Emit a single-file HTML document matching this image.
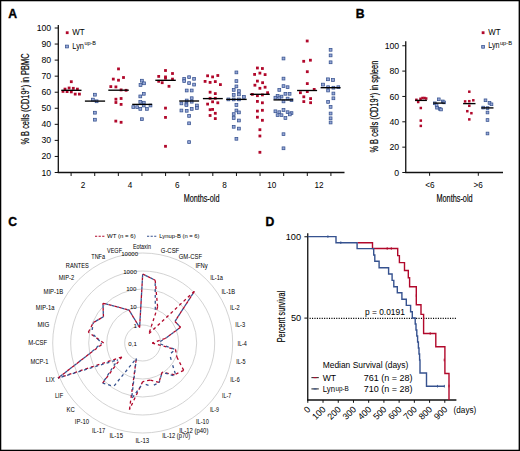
<!DOCTYPE html>
<html><head><meta charset="utf-8"><style>
html,body{margin:0;padding:0;background:#fff;}
body{width:520px;height:451px;overflow:hidden;}
svg{display:block;font-family:"Liberation Sans", sans-serif;}

</style></head><body>
<svg width="520" height="451" viewBox="0 0 520 451">
<rect x="0" y="0" width="520" height="451" fill="#fff"/>
<text x="8.30" y="17.60" font-size="12.2" font-weight="bold" fill="#000" stroke="#000" stroke-width="0.35">A</text>
<line x1="58.30" y1="25.00" x2="58.30" y2="173.10" stroke="#111" stroke-width="1.3"/>
<line x1="57.70" y1="172.50" x2="344.50" y2="172.50" stroke="#111" stroke-width="1.3"/>
<line x1="54.70" y1="172.50" x2="58.30" y2="172.50" stroke="#111" stroke-width="1.0"/>
<text x="51.20" y="175.55" font-size="8.7" text-anchor="end" fill="#000">10</text>
<line x1="54.70" y1="156.44" x2="58.30" y2="156.44" stroke="#111" stroke-width="1.0"/>
<text x="51.20" y="159.49" font-size="8.7" text-anchor="end" fill="#000">20</text>
<line x1="54.70" y1="140.39" x2="58.30" y2="140.39" stroke="#111" stroke-width="1.0"/>
<text x="51.20" y="143.44" font-size="8.7" text-anchor="end" fill="#000">30</text>
<line x1="54.70" y1="124.33" x2="58.30" y2="124.33" stroke="#111" stroke-width="1.0"/>
<text x="51.20" y="127.38" font-size="8.7" text-anchor="end" fill="#000">40</text>
<line x1="54.70" y1="108.28" x2="58.30" y2="108.28" stroke="#111" stroke-width="1.0"/>
<text x="51.20" y="111.33" font-size="8.7" text-anchor="end" fill="#000">50</text>
<line x1="54.70" y1="92.22" x2="58.30" y2="92.22" stroke="#111" stroke-width="1.0"/>
<text x="51.20" y="95.27" font-size="8.7" text-anchor="end" fill="#000">60</text>
<line x1="54.70" y1="76.16" x2="58.30" y2="76.16" stroke="#111" stroke-width="1.0"/>
<text x="51.20" y="79.21" font-size="8.7" text-anchor="end" fill="#000">70</text>
<line x1="54.70" y1="60.11" x2="58.30" y2="60.11" stroke="#111" stroke-width="1.0"/>
<text x="51.20" y="63.16" font-size="8.7" text-anchor="end" fill="#000">80</text>
<line x1="54.70" y1="44.05" x2="58.30" y2="44.05" stroke="#111" stroke-width="1.0"/>
<text x="51.20" y="47.10" font-size="8.7" text-anchor="end" fill="#000">90</text>
<line x1="54.70" y1="28.00" x2="58.30" y2="28.00" stroke="#111" stroke-width="1.0"/>
<text x="51.20" y="31.05" font-size="8.7" text-anchor="end" fill="#000">100</text>
<line x1="71.10" y1="172.50" x2="71.10" y2="176.00" stroke="#111" stroke-width="1.0"/>
<line x1="94.72" y1="172.50" x2="94.72" y2="176.00" stroke="#111" stroke-width="1.0"/>
<line x1="118.34" y1="172.50" x2="118.34" y2="176.00" stroke="#111" stroke-width="1.0"/>
<line x1="141.96" y1="172.50" x2="141.96" y2="176.00" stroke="#111" stroke-width="1.0"/>
<line x1="165.58" y1="172.50" x2="165.58" y2="176.00" stroke="#111" stroke-width="1.0"/>
<line x1="189.20" y1="172.50" x2="189.20" y2="176.00" stroke="#111" stroke-width="1.0"/>
<line x1="212.82" y1="172.50" x2="212.82" y2="176.00" stroke="#111" stroke-width="1.0"/>
<line x1="236.44" y1="172.50" x2="236.44" y2="176.00" stroke="#111" stroke-width="1.0"/>
<line x1="260.06" y1="172.50" x2="260.06" y2="176.00" stroke="#111" stroke-width="1.0"/>
<line x1="283.68" y1="172.50" x2="283.68" y2="176.00" stroke="#111" stroke-width="1.0"/>
<line x1="307.30" y1="172.50" x2="307.30" y2="176.00" stroke="#111" stroke-width="1.0"/>
<line x1="330.92" y1="172.50" x2="330.92" y2="176.00" stroke="#111" stroke-width="1.0"/>
<text x="82.91" y="188.20" font-size="8.2" text-anchor="middle" fill="#000">2</text>
<text x="130.15" y="188.20" font-size="8.2" text-anchor="middle" fill="#000">4</text>
<text x="177.39" y="188.20" font-size="8.2" text-anchor="middle" fill="#000">6</text>
<text x="224.63" y="188.20" font-size="8.2" text-anchor="middle" fill="#000">8</text>
<text x="271.87" y="188.20" font-size="8.2" text-anchor="middle" fill="#000">10</text>
<text x="319.11" y="188.20" font-size="8.2" text-anchor="middle" fill="#000">12</text>
<text x="183.65" y="202.15" font-size="10.4" fill="#000" textLength="35.8" lengthAdjust="spacingAndGlyphs" stroke="#000" stroke-width="0.15">Months-old</text>
<text transform="translate(29.3,144.6) rotate(-90)" font-size="10.3" stroke="#000" stroke-width="0.18" fill="#000" textLength="91.2" lengthAdjust="spacingAndGlyphs">% B cells (CD19<tspan font-size="7.2" dy="-3.4">+</tspan><tspan dy="3.4">) in PBMC</tspan></text>
<rect x="65.80" y="31.30" width="2.8" height="2.8" fill="#b1082b"/>
<text x="72.30" y="35.40" font-size="8.7" fill="#000" textLength="12.4" lengthAdjust="spacingAndGlyphs">WT</text>
<rect x="65.60" y="45.10" width="2.8" height="2.8" fill="#97a7d6" stroke="#36528f" stroke-width="0.75"/>
<text x="72.30" y="48.60" font-size="8.7" fill="#000" textLength="11.7" lengthAdjust="spacingAndGlyphs">Lyn</text>
<text x="84.40" y="44.90" font-size="5.7" fill="#000" textLength="11.6" lengthAdjust="spacingAndGlyphs">up-B</text>
<rect x="69.90" y="80.30" width="2.8" height="2.8" fill="#b1082b"/>
<rect x="63.60" y="87.70" width="2.8" height="2.8" fill="#b1082b"/>
<rect x="67.70" y="86.60" width="2.8" height="2.8" fill="#b1082b"/>
<rect x="71.90" y="86.90" width="2.8" height="2.8" fill="#b1082b"/>
<rect x="76.00" y="87.70" width="2.8" height="2.8" fill="#b1082b"/>
<rect x="61.60" y="90.00" width="2.8" height="2.8" fill="#b1082b"/>
<rect x="65.70" y="90.20" width="2.8" height="2.8" fill="#b1082b"/>
<rect x="69.90" y="90.50" width="2.8" height="2.8" fill="#b1082b"/>
<rect x="73.80" y="92.70" width="2.8" height="2.8" fill="#b1082b"/>
<rect x="78.00" y="92.70" width="2.8" height="2.8" fill="#b1082b"/>
<rect x="93.50" y="93.30" width="2.8" height="2.8" fill="#97a7d6" stroke="#36528f" stroke-width="0.75"/>
<rect x="91.50" y="98.20" width="2.8" height="2.8" fill="#97a7d6" stroke="#36528f" stroke-width="0.75"/>
<rect x="95.20" y="99.90" width="2.8" height="2.8" fill="#97a7d6" stroke="#36528f" stroke-width="0.75"/>
<rect x="93.50" y="111.30" width="2.8" height="2.8" fill="#97a7d6" stroke="#36528f" stroke-width="0.75"/>
<rect x="93.50" y="118.30" width="2.8" height="2.8" fill="#97a7d6" stroke="#36528f" stroke-width="0.75"/>
<rect x="117.10" y="67.50" width="2.8" height="2.8" fill="#b1082b"/>
<rect x="111.90" y="77.70" width="2.8" height="2.8" fill="#b1082b"/>
<rect x="117.10" y="78.80" width="2.8" height="2.8" fill="#b1082b"/>
<rect x="122.10" y="76.10" width="2.8" height="2.8" fill="#b1082b"/>
<rect x="109.40" y="85.20" width="2.8" height="2.8" fill="#b1082b"/>
<rect x="114.50" y="85.50" width="2.8" height="2.8" fill="#b1082b"/>
<rect x="119.70" y="88.50" width="2.8" height="2.8" fill="#b1082b"/>
<rect x="124.70" y="88.90" width="2.8" height="2.8" fill="#b1082b"/>
<rect x="114.50" y="97.80" width="2.8" height="2.8" fill="#b1082b"/>
<rect x="114.50" y="101.10" width="2.8" height="2.8" fill="#b1082b"/>
<rect x="119.70" y="97.10" width="2.8" height="2.8" fill="#b1082b"/>
<rect x="119.70" y="103.00" width="2.8" height="2.8" fill="#b1082b"/>
<rect x="114.40" y="119.70" width="2.8" height="2.8" fill="#b1082b"/>
<rect x="119.70" y="120.90" width="2.8" height="2.8" fill="#b1082b"/>
<rect x="140.50" y="79.30" width="2.8" height="2.8" fill="#97a7d6" stroke="#36528f" stroke-width="0.75"/>
<rect x="142.60" y="81.90" width="2.8" height="2.8" fill="#97a7d6" stroke="#36528f" stroke-width="0.75"/>
<rect x="139.10" y="83.60" width="2.8" height="2.8" fill="#97a7d6" stroke="#36528f" stroke-width="0.75"/>
<rect x="142.40" y="92.40" width="2.8" height="2.8" fill="#97a7d6" stroke="#36528f" stroke-width="0.75"/>
<rect x="138.90" y="95.00" width="2.8" height="2.8" fill="#97a7d6" stroke="#36528f" stroke-width="0.75"/>
<rect x="138.90" y="100.50" width="2.8" height="2.8" fill="#97a7d6" stroke="#36528f" stroke-width="0.75"/>
<rect x="142.40" y="101.30" width="2.8" height="2.8" fill="#97a7d6" stroke="#36528f" stroke-width="0.75"/>
<rect x="131.90" y="105.70" width="2.8" height="2.8" fill="#97a7d6" stroke="#36528f" stroke-width="0.75"/>
<rect x="135.80" y="105.80" width="2.8" height="2.8" fill="#97a7d6" stroke="#36528f" stroke-width="0.75"/>
<rect x="138.90" y="107.50" width="2.8" height="2.8" fill="#97a7d6" stroke="#36528f" stroke-width="0.75"/>
<rect x="145.50" y="107.50" width="2.8" height="2.8" fill="#97a7d6" stroke="#36528f" stroke-width="0.75"/>
<rect x="142.30" y="104.10" width="2.8" height="2.8" fill="#97a7d6" stroke="#36528f" stroke-width="0.75"/>
<rect x="149.10" y="104.10" width="2.8" height="2.8" fill="#97a7d6" stroke="#36528f" stroke-width="0.75"/>
<rect x="140.50" y="117.80" width="2.8" height="2.8" fill="#97a7d6" stroke="#36528f" stroke-width="0.75"/>
<rect x="164.10" y="69.10" width="2.8" height="2.8" fill="#b1082b"/>
<rect x="171.10" y="72.10" width="2.8" height="2.8" fill="#b1082b"/>
<rect x="157.30" y="75.00" width="2.8" height="2.8" fill="#b1082b"/>
<rect x="164.10" y="75.50" width="2.8" height="2.8" fill="#b1082b"/>
<rect x="164.10" y="76.80" width="2.8" height="2.8" fill="#b1082b"/>
<rect x="171.10" y="77.70" width="2.8" height="2.8" fill="#b1082b"/>
<rect x="157.30" y="79.90" width="2.8" height="2.8" fill="#b1082b"/>
<rect x="160.80" y="81.30" width="2.8" height="2.8" fill="#b1082b"/>
<rect x="167.60" y="84.90" width="2.8" height="2.8" fill="#b1082b"/>
<rect x="164.10" y="106.70" width="2.8" height="2.8" fill="#b1082b"/>
<rect x="164.10" y="116.00" width="2.8" height="2.8" fill="#b1082b"/>
<rect x="164.10" y="144.90" width="2.8" height="2.8" fill="#b1082b"/>
<rect x="182.80" y="77.40" width="2.8" height="2.8" fill="#97a7d6" stroke="#36528f" stroke-width="0.75"/>
<rect x="182.80" y="79.70" width="2.8" height="2.8" fill="#97a7d6" stroke="#36528f" stroke-width="0.75"/>
<rect x="187.70" y="75.80" width="2.8" height="2.8" fill="#97a7d6" stroke="#36528f" stroke-width="0.75"/>
<rect x="192.70" y="77.40" width="2.8" height="2.8" fill="#97a7d6" stroke="#36528f" stroke-width="0.75"/>
<rect x="187.70" y="81.70" width="2.8" height="2.8" fill="#97a7d6" stroke="#36528f" stroke-width="0.75"/>
<rect x="192.70" y="83.20" width="2.8" height="2.8" fill="#97a7d6" stroke="#36528f" stroke-width="0.75"/>
<rect x="185.30" y="89.10" width="2.8" height="2.8" fill="#97a7d6" stroke="#36528f" stroke-width="0.75"/>
<rect x="190.30" y="89.10" width="2.8" height="2.8" fill="#97a7d6" stroke="#36528f" stroke-width="0.75"/>
<rect x="190.30" y="96.80" width="2.8" height="2.8" fill="#97a7d6" stroke="#36528f" stroke-width="0.75"/>
<rect x="185.30" y="99.10" width="2.8" height="2.8" fill="#97a7d6" stroke="#36528f" stroke-width="0.75"/>
<rect x="190.30" y="100.30" width="2.8" height="2.8" fill="#97a7d6" stroke="#36528f" stroke-width="0.75"/>
<rect x="180.00" y="102.00" width="2.8" height="2.8" fill="#97a7d6" stroke="#36528f" stroke-width="0.75"/>
<rect x="185.00" y="102.60" width="2.8" height="2.8" fill="#97a7d6" stroke="#36528f" stroke-width="0.75"/>
<rect x="185.00" y="103.80" width="2.8" height="2.8" fill="#97a7d6" stroke="#36528f" stroke-width="0.75"/>
<rect x="195.50" y="104.10" width="2.8" height="2.8" fill="#97a7d6" stroke="#36528f" stroke-width="0.75"/>
<rect x="195.50" y="106.60" width="2.8" height="2.8" fill="#97a7d6" stroke="#36528f" stroke-width="0.75"/>
<rect x="180.00" y="109.10" width="2.8" height="2.8" fill="#97a7d6" stroke="#36528f" stroke-width="0.75"/>
<rect x="185.30" y="109.40" width="2.8" height="2.8" fill="#97a7d6" stroke="#36528f" stroke-width="0.75"/>
<rect x="190.30" y="107.50" width="2.8" height="2.8" fill="#97a7d6" stroke="#36528f" stroke-width="0.75"/>
<rect x="187.70" y="114.50" width="2.8" height="2.8" fill="#97a7d6" stroke="#36528f" stroke-width="0.75"/>
<rect x="187.70" y="121.90" width="2.8" height="2.8" fill="#97a7d6" stroke="#36528f" stroke-width="0.75"/>
<rect x="187.70" y="140.70" width="2.8" height="2.8" fill="#97a7d6" stroke="#36528f" stroke-width="0.75"/>
<rect x="206.20" y="74.40" width="2.8" height="2.8" fill="#b1082b"/>
<rect x="211.20" y="75.50" width="2.8" height="2.8" fill="#b1082b"/>
<rect x="216.40" y="74.10" width="2.8" height="2.8" fill="#b1082b"/>
<rect x="203.70" y="80.00" width="2.8" height="2.8" fill="#b1082b"/>
<rect x="208.70" y="81.00" width="2.8" height="2.8" fill="#b1082b"/>
<rect x="213.90" y="80.20" width="2.8" height="2.8" fill="#b1082b"/>
<rect x="219.00" y="83.20" width="2.8" height="2.8" fill="#b1082b"/>
<rect x="208.70" y="90.80" width="2.8" height="2.8" fill="#b1082b"/>
<rect x="213.90" y="92.20" width="2.8" height="2.8" fill="#b1082b"/>
<rect x="208.70" y="96.90" width="2.8" height="2.8" fill="#b1082b"/>
<rect x="213.90" y="96.90" width="2.8" height="2.8" fill="#b1082b"/>
<rect x="211.20" y="100.40" width="2.8" height="2.8" fill="#b1082b"/>
<rect x="216.40" y="101.40" width="2.8" height="2.8" fill="#b1082b"/>
<rect x="206.20" y="102.70" width="2.8" height="2.8" fill="#b1082b"/>
<rect x="208.70" y="108.30" width="2.8" height="2.8" fill="#b1082b"/>
<rect x="211.20" y="108.00" width="2.8" height="2.8" fill="#b1082b"/>
<rect x="213.90" y="111.90" width="2.8" height="2.8" fill="#b1082b"/>
<rect x="208.70" y="114.10" width="2.8" height="2.8" fill="#b1082b"/>
<rect x="213.90" y="117.20" width="2.8" height="2.8" fill="#b1082b"/>
<rect x="235.00" y="71.00" width="2.8" height="2.8" fill="#97a7d6" stroke="#36528f" stroke-width="0.75"/>
<rect x="235.00" y="79.70" width="2.8" height="2.8" fill="#97a7d6" stroke="#36528f" stroke-width="0.75"/>
<rect x="235.00" y="85.00" width="2.8" height="2.8" fill="#97a7d6" stroke="#36528f" stroke-width="0.75"/>
<rect x="232.30" y="88.50" width="2.8" height="2.8" fill="#97a7d6" stroke="#36528f" stroke-width="0.75"/>
<rect x="237.50" y="89.70" width="2.8" height="2.8" fill="#97a7d6" stroke="#36528f" stroke-width="0.75"/>
<rect x="237.50" y="93.00" width="2.8" height="2.8" fill="#97a7d6" stroke="#36528f" stroke-width="0.75"/>
<rect x="232.30" y="93.50" width="2.8" height="2.8" fill="#97a7d6" stroke="#36528f" stroke-width="0.75"/>
<rect x="242.50" y="95.50" width="2.8" height="2.8" fill="#97a7d6" stroke="#36528f" stroke-width="0.75"/>
<rect x="227.00" y="98.00" width="2.8" height="2.8" fill="#97a7d6" stroke="#36528f" stroke-width="0.75"/>
<rect x="232.30" y="98.00" width="2.8" height="2.8" fill="#97a7d6" stroke="#36528f" stroke-width="0.75"/>
<rect x="237.50" y="98.00" width="2.8" height="2.8" fill="#97a7d6" stroke="#36528f" stroke-width="0.75"/>
<rect x="235.00" y="103.60" width="2.8" height="2.8" fill="#97a7d6" stroke="#36528f" stroke-width="0.75"/>
<rect x="235.00" y="109.10" width="2.8" height="2.8" fill="#97a7d6" stroke="#36528f" stroke-width="0.75"/>
<rect x="237.50" y="111.00" width="2.8" height="2.8" fill="#97a7d6" stroke="#36528f" stroke-width="0.75"/>
<rect x="232.30" y="112.70" width="2.8" height="2.8" fill="#97a7d6" stroke="#36528f" stroke-width="0.75"/>
<rect x="232.30" y="116.60" width="2.8" height="2.8" fill="#97a7d6" stroke="#36528f" stroke-width="0.75"/>
<rect x="237.50" y="119.10" width="2.8" height="2.8" fill="#97a7d6" stroke="#36528f" stroke-width="0.75"/>
<rect x="232.30" y="125.40" width="2.8" height="2.8" fill="#97a7d6" stroke="#36528f" stroke-width="0.75"/>
<rect x="237.50" y="127.20" width="2.8" height="2.8" fill="#97a7d6" stroke="#36528f" stroke-width="0.75"/>
<rect x="235.00" y="137.40" width="2.8" height="2.8" fill="#97a7d6" stroke="#36528f" stroke-width="0.75"/>
<rect x="256.00" y="66.60" width="2.8" height="2.8" fill="#b1082b"/>
<rect x="261.00" y="67.10" width="2.8" height="2.8" fill="#b1082b"/>
<rect x="253.20" y="73.00" width="2.8" height="2.8" fill="#b1082b"/>
<rect x="258.50" y="71.70" width="2.8" height="2.8" fill="#b1082b"/>
<rect x="263.70" y="73.20" width="2.8" height="2.8" fill="#b1082b"/>
<rect x="256.00" y="79.70" width="2.8" height="2.8" fill="#b1082b"/>
<rect x="261.20" y="81.30" width="2.8" height="2.8" fill="#b1082b"/>
<rect x="253.50" y="83.80" width="2.8" height="2.8" fill="#b1082b"/>
<rect x="258.50" y="86.90" width="2.8" height="2.8" fill="#b1082b"/>
<rect x="263.70" y="85.80" width="2.8" height="2.8" fill="#b1082b"/>
<rect x="266.20" y="91.30" width="2.8" height="2.8" fill="#b1082b"/>
<rect x="250.90" y="93.00" width="2.8" height="2.8" fill="#b1082b"/>
<rect x="256.00" y="94.30" width="2.8" height="2.8" fill="#b1082b"/>
<rect x="261.00" y="93.50" width="2.8" height="2.8" fill="#b1082b"/>
<rect x="256.00" y="100.00" width="2.8" height="2.8" fill="#b1082b"/>
<rect x="261.00" y="101.40" width="2.8" height="2.8" fill="#b1082b"/>
<rect x="256.00" y="109.70" width="2.8" height="2.8" fill="#b1082b"/>
<rect x="261.00" y="108.90" width="2.8" height="2.8" fill="#b1082b"/>
<rect x="256.00" y="115.80" width="2.8" height="2.8" fill="#b1082b"/>
<rect x="261.00" y="118.90" width="2.8" height="2.8" fill="#b1082b"/>
<rect x="258.50" y="128.30" width="2.8" height="2.8" fill="#b1082b"/>
<rect x="258.50" y="134.60" width="2.8" height="2.8" fill="#b1082b"/>
<rect x="258.50" y="150.90" width="2.8" height="2.8" fill="#b1082b"/>
<rect x="282.10" y="57.10" width="2.8" height="2.8" fill="#97a7d6" stroke="#36528f" stroke-width="0.75"/>
<rect x="282.10" y="77.20" width="2.8" height="2.8" fill="#97a7d6" stroke="#36528f" stroke-width="0.75"/>
<rect x="282.10" y="84.70" width="2.8" height="2.8" fill="#97a7d6" stroke="#36528f" stroke-width="0.75"/>
<rect x="286.20" y="85.80" width="2.8" height="2.8" fill="#97a7d6" stroke="#36528f" stroke-width="0.75"/>
<rect x="277.90" y="88.50" width="2.8" height="2.8" fill="#97a7d6" stroke="#36528f" stroke-width="0.75"/>
<rect x="284.00" y="92.40" width="2.8" height="2.8" fill="#97a7d6" stroke="#36528f" stroke-width="0.75"/>
<rect x="288.20" y="92.40" width="2.8" height="2.8" fill="#97a7d6" stroke="#36528f" stroke-width="0.75"/>
<rect x="276.20" y="94.60" width="2.8" height="2.8" fill="#97a7d6" stroke="#36528f" stroke-width="0.75"/>
<rect x="280.10" y="95.20" width="2.8" height="2.8" fill="#97a7d6" stroke="#36528f" stroke-width="0.75"/>
<rect x="274.00" y="96.30" width="2.8" height="2.8" fill="#97a7d6" stroke="#36528f" stroke-width="0.75"/>
<rect x="277.90" y="96.80" width="2.8" height="2.8" fill="#97a7d6" stroke="#36528f" stroke-width="0.75"/>
<rect x="286.20" y="97.20" width="2.8" height="2.8" fill="#97a7d6" stroke="#36528f" stroke-width="0.75"/>
<rect x="290.10" y="98.80" width="2.8" height="2.8" fill="#97a7d6" stroke="#36528f" stroke-width="0.75"/>
<rect x="282.10" y="100.00" width="2.8" height="2.8" fill="#97a7d6" stroke="#36528f" stroke-width="0.75"/>
<rect x="274.00" y="109.90" width="2.8" height="2.8" fill="#97a7d6" stroke="#36528f" stroke-width="0.75"/>
<rect x="277.90" y="110.80" width="2.8" height="2.8" fill="#97a7d6" stroke="#36528f" stroke-width="0.75"/>
<rect x="282.10" y="108.60" width="2.8" height="2.8" fill="#97a7d6" stroke="#36528f" stroke-width="0.75"/>
<rect x="286.20" y="110.80" width="2.8" height="2.8" fill="#97a7d6" stroke="#36528f" stroke-width="0.75"/>
<rect x="290.10" y="111.70" width="2.8" height="2.8" fill="#97a7d6" stroke="#36528f" stroke-width="0.75"/>
<rect x="276.20" y="113.80" width="2.8" height="2.8" fill="#97a7d6" stroke="#36528f" stroke-width="0.75"/>
<rect x="280.10" y="113.80" width="2.8" height="2.8" fill="#97a7d6" stroke="#36528f" stroke-width="0.75"/>
<rect x="288.40" y="113.00" width="2.8" height="2.8" fill="#97a7d6" stroke="#36528f" stroke-width="0.75"/>
<rect x="284.00" y="116.60" width="2.8" height="2.8" fill="#97a7d6" stroke="#36528f" stroke-width="0.75"/>
<rect x="282.10" y="132.80" width="2.8" height="2.8" fill="#97a7d6" stroke="#36528f" stroke-width="0.75"/>
<rect x="282.10" y="146.90" width="2.8" height="2.8" fill="#97a7d6" stroke="#36528f" stroke-width="0.75"/>
<rect x="305.80" y="39.60" width="2.8" height="2.8" fill="#b1082b"/>
<rect x="302.30" y="59.90" width="2.8" height="2.8" fill="#b1082b"/>
<rect x="309.00" y="58.80" width="2.8" height="2.8" fill="#b1082b"/>
<rect x="305.90" y="70.30" width="2.8" height="2.8" fill="#b1082b"/>
<rect x="305.90" y="82.20" width="2.8" height="2.8" fill="#b1082b"/>
<rect x="312.80" y="88.00" width="2.8" height="2.8" fill="#b1082b"/>
<rect x="299.00" y="91.30" width="2.8" height="2.8" fill="#b1082b"/>
<rect x="305.90" y="90.20" width="2.8" height="2.8" fill="#b1082b"/>
<rect x="302.40" y="95.40" width="2.8" height="2.8" fill="#b1082b"/>
<rect x="309.20" y="97.20" width="2.8" height="2.8" fill="#b1082b"/>
<rect x="302.40" y="100.20" width="2.8" height="2.8" fill="#b1082b"/>
<rect x="309.20" y="101.30" width="2.8" height="2.8" fill="#b1082b"/>
<rect x="329.20" y="48.40" width="2.8" height="2.8" fill="#97a7d6" stroke="#36528f" stroke-width="0.75"/>
<rect x="329.20" y="54.00" width="2.8" height="2.8" fill="#97a7d6" stroke="#36528f" stroke-width="0.75"/>
<rect x="329.20" y="60.90" width="2.8" height="2.8" fill="#97a7d6" stroke="#36528f" stroke-width="0.75"/>
<rect x="326.60" y="77.90" width="2.8" height="2.8" fill="#97a7d6" stroke="#36528f" stroke-width="0.75"/>
<rect x="331.60" y="78.60" width="2.8" height="2.8" fill="#97a7d6" stroke="#36528f" stroke-width="0.75"/>
<rect x="321.60" y="83.20" width="2.8" height="2.8" fill="#97a7d6" stroke="#36528f" stroke-width="0.75"/>
<rect x="326.70" y="85.80" width="2.8" height="2.8" fill="#97a7d6" stroke="#36528f" stroke-width="0.75"/>
<rect x="332.00" y="86.30" width="2.8" height="2.8" fill="#97a7d6" stroke="#36528f" stroke-width="0.75"/>
<rect x="336.90" y="85.80" width="2.8" height="2.8" fill="#97a7d6" stroke="#36528f" stroke-width="0.75"/>
<rect x="326.70" y="89.10" width="2.8" height="2.8" fill="#97a7d6" stroke="#36528f" stroke-width="0.75"/>
<rect x="332.00" y="92.10" width="2.8" height="2.8" fill="#97a7d6" stroke="#36528f" stroke-width="0.75"/>
<rect x="332.00" y="96.90" width="2.8" height="2.8" fill="#97a7d6" stroke="#36528f" stroke-width="0.75"/>
<rect x="326.70" y="100.50" width="2.8" height="2.8" fill="#97a7d6" stroke="#36528f" stroke-width="0.75"/>
<rect x="329.20" y="105.50" width="2.8" height="2.8" fill="#97a7d6" stroke="#36528f" stroke-width="0.75"/>
<rect x="329.20" y="112.10" width="2.8" height="2.8" fill="#97a7d6" stroke="#36528f" stroke-width="0.75"/>
<rect x="329.20" y="116.90" width="2.8" height="2.8" fill="#97a7d6" stroke="#36528f" stroke-width="0.75"/>
<rect x="329.20" y="121.10" width="2.8" height="2.8" fill="#97a7d6" stroke="#36528f" stroke-width="0.75"/>
<line x1="61.30" y1="90.30" x2="81.50" y2="90.30" stroke="#000" stroke-width="1.35"/>
<line x1="84.90" y1="101.10" x2="105.10" y2="101.10" stroke="#000" stroke-width="1.35"/>
<line x1="108.30" y1="90.20" x2="128.80" y2="90.20" stroke="#000" stroke-width="1.35"/>
<line x1="132.20" y1="104.40" x2="152.10" y2="104.40" stroke="#000" stroke-width="1.35"/>
<line x1="155.30" y1="80.30" x2="175.80" y2="80.30" stroke="#000" stroke-width="1.35"/>
<line x1="179.20" y1="101.00" x2="199.10" y2="101.00" stroke="#000" stroke-width="1.35"/>
<line x1="202.90" y1="98.60" x2="222.80" y2="98.60" stroke="#000" stroke-width="1.35"/>
<line x1="226.20" y1="99.40" x2="246.70" y2="99.40" stroke="#000" stroke-width="1.35"/>
<line x1="249.90" y1="94.30" x2="269.80" y2="94.30" stroke="#000" stroke-width="1.35"/>
<line x1="273.50" y1="99.90" x2="293.10" y2="99.90" stroke="#000" stroke-width="1.35"/>
<line x1="297.10" y1="90.50" x2="317.10" y2="90.50" stroke="#000" stroke-width="1.35"/>
<line x1="320.60" y1="87.70" x2="340.60" y2="87.70" stroke="#000" stroke-width="1.35"/>
<text x="355.70" y="17.60" font-size="12.2" font-weight="bold" fill="#000" stroke="#000" stroke-width="0.35">B</text>
<line x1="405.75" y1="41.20" x2="405.75" y2="173.10" stroke="#111" stroke-width="1.3"/>
<line x1="405.15" y1="172.50" x2="503.00" y2="172.50" stroke="#111" stroke-width="1.3"/>
<line x1="402.30" y1="172.50" x2="405.75" y2="172.50" stroke="#111" stroke-width="1.0"/>
<text x="399.20" y="175.55" font-size="8.7" text-anchor="end" fill="#000">0</text>
<line x1="402.30" y1="147.15" x2="405.75" y2="147.15" stroke="#111" stroke-width="1.0"/>
<text x="399.20" y="150.20" font-size="8.7" text-anchor="end" fill="#000">20</text>
<line x1="402.30" y1="121.80" x2="405.75" y2="121.80" stroke="#111" stroke-width="1.0"/>
<text x="399.20" y="124.85" font-size="8.7" text-anchor="end" fill="#000">40</text>
<line x1="402.30" y1="96.45" x2="405.75" y2="96.45" stroke="#111" stroke-width="1.0"/>
<text x="399.20" y="99.50" font-size="8.7" text-anchor="end" fill="#000">60</text>
<line x1="402.30" y1="71.10" x2="405.75" y2="71.10" stroke="#111" stroke-width="1.0"/>
<text x="399.20" y="74.15" font-size="8.7" text-anchor="end" fill="#000">80</text>
<line x1="402.30" y1="45.75" x2="405.75" y2="45.75" stroke="#111" stroke-width="1.0"/>
<text x="399.20" y="48.80" font-size="8.7" text-anchor="end" fill="#000">100</text>
<line x1="429.60" y1="172.50" x2="429.60" y2="175.80" stroke="#111" stroke-width="1.0"/>
<line x1="478.30" y1="172.50" x2="478.30" y2="175.80" stroke="#111" stroke-width="1.0"/>
<text x="430.00" y="187.80" font-size="8.2" text-anchor="middle" fill="#000">&lt;6</text>
<text x="478.10" y="187.80" font-size="8.2" text-anchor="middle" fill="#000">&gt;6</text>
<text x="436.40" y="202.20" font-size="10.4" fill="#000" textLength="36.2" lengthAdjust="spacingAndGlyphs" stroke="#000" stroke-width="0.15">Months-old</text>
<text transform="translate(378.0,152.6) rotate(-90)" font-size="10.3" stroke="#000" stroke-width="0.18" fill="#000" textLength="91.9" lengthAdjust="spacingAndGlyphs">% B cells (CD19<tspan font-size="7.2" dy="-3.4">+</tspan><tspan dy="3.4">) in spleen</tspan></text>
<rect x="481.70" y="31.30" width="2.8" height="2.8" fill="#b1082b"/>
<text x="488.20" y="35.10" font-size="8.7" fill="#000" textLength="12.3" lengthAdjust="spacingAndGlyphs">WT</text>
<rect x="481.70" y="45.40" width="2.8" height="2.8" fill="#97a7d6" stroke="#36528f" stroke-width="0.75"/>
<text x="488.20" y="48.20" font-size="8.7" fill="#000" textLength="11.4" lengthAdjust="spacingAndGlyphs">Lyn</text>
<text x="499.90" y="44.70" font-size="5.7" fill="#000" textLength="12.2" lengthAdjust="spacingAndGlyphs">up-B</text>
<rect x="415.15" y="98.55" width="2.5" height="2.5" fill="#b1082b"/>
<rect x="416.95" y="100.75" width="2.5" height="2.5" fill="#b1082b"/>
<rect x="419.25" y="97.55" width="2.5" height="2.5" fill="#b1082b"/>
<rect x="421.25" y="96.75" width="2.5" height="2.5" fill="#b1082b"/>
<rect x="423.25" y="96.75" width="2.5" height="2.5" fill="#b1082b"/>
<rect x="424.95" y="97.25" width="2.5" height="2.5" fill="#b1082b"/>
<rect x="419.55" y="106.75" width="2.5" height="2.5" fill="#b1082b"/>
<rect x="419.55" y="119.35" width="2.5" height="2.5" fill="#b1082b"/>
<rect x="419.55" y="124.65" width="2.5" height="2.5" fill="#b1082b"/>
<rect x="468.05" y="90.45" width="2.5" height="2.5" fill="#b1082b"/>
<rect x="463.85" y="100.15" width="2.5" height="2.5" fill="#b1082b"/>
<rect x="468.05" y="99.95" width="2.5" height="2.5" fill="#b1082b"/>
<rect x="472.05" y="99.05" width="2.5" height="2.5" fill="#b1082b"/>
<rect x="468.05" y="104.55" width="2.5" height="2.5" fill="#b1082b"/>
<rect x="466.05" y="109.95" width="2.5" height="2.5" fill="#b1082b"/>
<rect x="470.15" y="111.95" width="2.5" height="2.5" fill="#b1082b"/>
<rect x="468.05" y="118.15" width="2.5" height="2.5" fill="#b1082b"/>
<rect x="437.45" y="97.95" width="2.7" height="2.7" fill="#97a7d6" stroke="#36528f" stroke-width="0.75"/>
<rect x="441.45" y="100.05" width="2.7" height="2.7" fill="#97a7d6" stroke="#36528f" stroke-width="0.75"/>
<rect x="442.75" y="101.05" width="2.7" height="2.7" fill="#97a7d6" stroke="#36528f" stroke-width="0.75"/>
<rect x="433.45" y="101.95" width="2.7" height="2.7" fill="#97a7d6" stroke="#36528f" stroke-width="0.75"/>
<rect x="435.25" y="103.75" width="2.7" height="2.7" fill="#97a7d6" stroke="#36528f" stroke-width="0.75"/>
<rect x="435.65" y="106.35" width="2.7" height="2.7" fill="#97a7d6" stroke="#36528f" stroke-width="0.75"/>
<rect x="438.35" y="107.45" width="2.7" height="2.7" fill="#97a7d6" stroke="#36528f" stroke-width="0.75"/>
<rect x="439.65" y="108.15" width="2.7" height="2.7" fill="#97a7d6" stroke="#36528f" stroke-width="0.75"/>
<rect x="484.15" y="98.95" width="2.7" height="2.7" fill="#97a7d6" stroke="#36528f" stroke-width="0.75"/>
<rect x="488.15" y="101.55" width="2.7" height="2.7" fill="#97a7d6" stroke="#36528f" stroke-width="0.75"/>
<rect x="490.15" y="102.95" width="2.7" height="2.7" fill="#97a7d6" stroke="#36528f" stroke-width="0.75"/>
<rect x="481.85" y="106.25" width="2.7" height="2.7" fill="#97a7d6" stroke="#36528f" stroke-width="0.75"/>
<rect x="486.15" y="106.75" width="2.7" height="2.7" fill="#97a7d6" stroke="#36528f" stroke-width="0.75"/>
<rect x="486.15" y="111.15" width="2.7" height="2.7" fill="#97a7d6" stroke="#36528f" stroke-width="0.75"/>
<rect x="486.15" y="118.65" width="2.7" height="2.7" fill="#97a7d6" stroke="#36528f" stroke-width="0.75"/>
<rect x="486.15" y="132.15" width="2.7" height="2.7" fill="#97a7d6" stroke="#36528f" stroke-width="0.75"/>
<line x1="415.10" y1="100.40" x2="426.90" y2="100.40" stroke="#000" stroke-width="1.35"/>
<line x1="433.20" y1="103.10" x2="445.00" y2="103.10" stroke="#000" stroke-width="1.35"/>
<line x1="463.10" y1="103.60" x2="475.50" y2="103.60" stroke="#000" stroke-width="1.35"/>
<line x1="481.30" y1="107.90" x2="493.50" y2="107.90" stroke="#000" stroke-width="1.35"/>
<text x="8.30" y="226.00" font-size="12.2" font-weight="bold" fill="#000" stroke="#000" stroke-width="0.35">C</text>
<line x1="95.00" y1="236.30" x2="104.50" y2="236.30" stroke="#b1082b" stroke-width="1.1" stroke-dasharray="2.2 1.4"/>
<text x="107.00" y="238.20" font-size="5.6" fill="#000" textLength="28.7" lengthAdjust="spacingAndGlyphs">WT (n = 6)</text>
<line x1="147.00" y1="236.30" x2="156.30" y2="236.30" stroke="#36528f" stroke-width="1.1" stroke-dasharray="2.2 1.4"/>
<text x="159.30" y="238.20" font-size="5.6" fill="#000" textLength="40.2" lengthAdjust="spacingAndGlyphs">Lynup-B (n = 6)</text>
<circle cx="142.7" cy="343.0" r="18" fill="none" stroke="#c4c4c4" stroke-width="0.75"/>
<circle cx="142.7" cy="343.0" r="36" fill="none" stroke="#c4c4c4" stroke-width="0.75"/>
<circle cx="142.7" cy="343.0" r="54" fill="none" stroke="#c4c4c4" stroke-width="0.75"/>
<circle cx="142.7" cy="343.0" r="72" fill="none" stroke="#c4c4c4" stroke-width="0.75"/>
<circle cx="142.7" cy="343.0" r="90" fill="none" stroke="#c4c4c4" stroke-width="0.75"/>
<text x="138.10" y="256.20" font-size="6.1" text-anchor="end" fill="#000">10000</text>
<text x="136.80" y="273.90" font-size="6.1" text-anchor="end" fill="#000">1000</text>
<text x="136.40" y="291.40" font-size="6.1" text-anchor="end" fill="#000">100</text>
<text x="136.70" y="309.20" font-size="6.1" text-anchor="end" fill="#000">10</text>
<text x="136.80" y="328.00" font-size="6.1" text-anchor="end" fill="#000">1</text>
<text x="136.80" y="345.70" font-size="6.1" text-anchor="end" fill="#000">0,1</text>
<text x="133.00" y="248.60" font-size="6.3" fill="#000" textLength="18.0" lengthAdjust="spacingAndGlyphs">Eotaxin</text>
<text x="160.80" y="253.30" font-size="6.3" fill="#000" textLength="18.4" lengthAdjust="spacingAndGlyphs">G-CSF</text>
<text x="178.80" y="259.10" font-size="6.3" fill="#000" textLength="23.2" lengthAdjust="spacingAndGlyphs">GM-CSF</text>
<text x="195.40" y="267.90" font-size="6.3" fill="#000" textLength="12.4" lengthAdjust="spacingAndGlyphs">IFNy</text>
<text x="210.20" y="279.50" font-size="6.3" fill="#000" textLength="12.8" lengthAdjust="spacingAndGlyphs">IL-1a</text>
<text x="221.40" y="293.50" font-size="6.3" fill="#000" textLength="13.7" lengthAdjust="spacingAndGlyphs">IL-1B</text>
<text x="230.00" y="309.60" font-size="6.3" fill="#000" textLength="9.7" lengthAdjust="spacingAndGlyphs">IL-2</text>
<text x="235.30" y="327.40" font-size="6.3" fill="#000" textLength="9.8" lengthAdjust="spacingAndGlyphs">IL-3</text>
<text x="237.40" y="345.60" font-size="6.3" fill="#000" textLength="9.4" lengthAdjust="spacingAndGlyphs">IL-4</text>
<text x="236.20" y="363.90" font-size="6.3" fill="#000" textLength="9.4" lengthAdjust="spacingAndGlyphs">IL-5</text>
<text x="230.30" y="381.60" font-size="6.3" fill="#000" textLength="9.4" lengthAdjust="spacingAndGlyphs">IL-6</text>
<text x="222.00" y="397.90" font-size="6.3" fill="#000" textLength="9.3" lengthAdjust="spacingAndGlyphs">IL-7</text>
<text x="209.90" y="412.40" font-size="6.3" fill="#000" textLength="9.1" lengthAdjust="spacingAndGlyphs">IL-9</text>
<text x="196.00" y="423.90" font-size="6.3" fill="#000" textLength="12.9" lengthAdjust="spacingAndGlyphs">IL-10</text>
<text x="179.20" y="432.60" font-size="6.3" fill="#000" textLength="29.2" lengthAdjust="spacingAndGlyphs">IL-12 (p40)</text>
<text x="162.20" y="438.30" font-size="6.3" fill="#000" textLength="28.0" lengthAdjust="spacingAndGlyphs">IL-12 (p70)</text>
<text x="135.40" y="442.70" font-size="6.3" fill="#000" textLength="13.8" lengthAdjust="spacingAndGlyphs">IL-13</text>
<text x="109.40" y="437.80" font-size="6.3" fill="#000" textLength="13.6" lengthAdjust="spacingAndGlyphs">IL-15</text>
<text x="92.00" y="432.50" font-size="6.3" fill="#000" textLength="13.2" lengthAdjust="spacingAndGlyphs">IL-17</text>
<text x="74.80" y="424.00" font-size="6.3" fill="#000" textLength="14.4" lengthAdjust="spacingAndGlyphs">IP-10</text>
<text x="66.50" y="411.80" font-size="6.3" fill="#000" textLength="8.3" lengthAdjust="spacingAndGlyphs">KC</text>
<text x="54.90" y="397.70" font-size="6.3" fill="#000" textLength="8.3" lengthAdjust="spacingAndGlyphs">LIF</text>
<text x="45.70" y="381.90" font-size="6.3" fill="#000" textLength="8.9" lengthAdjust="spacingAndGlyphs">LIX</text>
<text x="30.50" y="363.90" font-size="6.3" fill="#000" textLength="18.0" lengthAdjust="spacingAndGlyphs">MCP-1</text>
<text x="28.30" y="345.30" font-size="6.3" fill="#000" textLength="18.8" lengthAdjust="spacingAndGlyphs">M-CSF</text>
<text x="37.40" y="327.30" font-size="6.3" fill="#000" textLength="11.9" lengthAdjust="spacingAndGlyphs">MIG</text>
<text x="35.80" y="309.60" font-size="6.3" fill="#000" textLength="18.7" lengthAdjust="spacingAndGlyphs">MIP-1a</text>
<text x="43.50" y="293.60" font-size="6.3" fill="#000" textLength="19.7" lengthAdjust="spacingAndGlyphs">MIP-1B</text>
<text x="58.80" y="279.80" font-size="6.3" fill="#000" textLength="15.4" lengthAdjust="spacingAndGlyphs">MIP-2</text>
<text x="65.80" y="267.60" font-size="6.3" fill="#000" textLength="23.0" lengthAdjust="spacingAndGlyphs">RANTES</text>
<text x="91.30" y="259.10" font-size="6.3" fill="#000" textLength="13.7" lengthAdjust="spacingAndGlyphs">TNFa</text>
<text x="107.00" y="253.10" font-size="6.3" fill="#000" textLength="15.0" lengthAdjust="spacingAndGlyphs">VEGF</text>
<line x1="142.70" y1="274.00" x2="155.19" y2="280.23" stroke="#b1082b" stroke-width="1.3" stroke-dasharray="3.0 2.9"/>
<line x1="155.19" y1="280.23" x2="157.62" y2="306.97" stroke="#b1082b" stroke-width="1.3" stroke-dasharray="3.0 2.9"/>
<line x1="157.62" y1="306.97" x2="149.03" y2="333.52" stroke="#b1082b" stroke-width="1.3" stroke-dasharray="3.0 2.9"/>
<line x1="149.03" y1="333.52" x2="194.32" y2="291.38" stroke="#b1082b" stroke-width="1.3" stroke-dasharray="3.0 2.9"/>
<line x1="194.32" y1="291.38" x2="174.96" y2="321.44" stroke="#b1082b" stroke-width="1.3" stroke-dasharray="3.0 2.9"/>
<line x1="174.96" y1="321.44" x2="180.58" y2="327.31" stroke="#b1082b" stroke-width="1.3" stroke-dasharray="3.0 2.9"/>
<line x1="180.58" y1="327.31" x2="165.26" y2="338.51" stroke="#b1082b" stroke-width="1.3" stroke-dasharray="3.0 2.9"/>
<line x1="165.26" y1="338.51" x2="152.20" y2="343.00" stroke="#b1082b" stroke-width="1.3" stroke-dasharray="3.0 2.9"/>
<line x1="152.20" y1="343.00" x2="175.56" y2="349.54" stroke="#b1082b" stroke-width="1.3" stroke-dasharray="3.0 2.9"/>
<line x1="175.56" y1="349.54" x2="176.88" y2="357.16" stroke="#b1082b" stroke-width="1.3" stroke-dasharray="3.0 2.9"/>
<line x1="176.88" y1="357.16" x2="183.69" y2="370.39" stroke="#b1082b" stroke-width="1.3" stroke-dasharray="3.0 2.9"/>
<line x1="183.69" y1="370.39" x2="174.52" y2="374.82" stroke="#b1082b" stroke-width="1.3" stroke-dasharray="3.0 2.9"/>
<line x1="174.52" y1="374.82" x2="162.14" y2="372.10" stroke="#b1082b" stroke-width="1.3" stroke-dasharray="3.0 2.9"/>
<line x1="162.14" y1="372.10" x2="158.96" y2="382.26" stroke="#b1082b" stroke-width="1.3" stroke-dasharray="3.0 2.9"/>
<line x1="158.96" y1="382.26" x2="150.07" y2="380.07" stroke="#b1082b" stroke-width="1.3" stroke-dasharray="3.0 2.9"/>
<line x1="150.07" y1="380.07" x2="142.70" y2="381.60" stroke="#b1082b" stroke-width="1.3" stroke-dasharray="3.0 2.9"/>
<line x1="142.70" y1="381.60" x2="129.47" y2="409.50" stroke="#b1082b" stroke-width="1.3" stroke-dasharray="3.0 2.9"/>
<line x1="129.47" y1="409.50" x2="136.35" y2="358.34" stroke="#b1082b" stroke-width="1.3" stroke-dasharray="3.0 2.9"/>
<line x1="102.68" y1="383.02" x2="121.75" y2="357.00" stroke="#b1082b" stroke-width="1.3" stroke-dasharray="3.0 2.9"/>
<line x1="121.75" y1="357.00" x2="57.98" y2="378.09" stroke="#b1082b" stroke-width="1.3" stroke-dasharray="3.0 2.9"/>
<line x1="57.98" y1="378.09" x2="89.74" y2="353.53" stroke="#b1082b" stroke-width="1.3" stroke-dasharray="3.0 2.9"/>
<line x1="89.74" y1="353.53" x2="103.70" y2="343.00" stroke="#b1082b" stroke-width="1.3" stroke-dasharray="3.0 2.9"/>
<line x1="103.70" y1="343.00" x2="88.36" y2="332.19" stroke="#b1082b" stroke-width="1.3" stroke-dasharray="3.0 2.9"/>
<line x1="88.36" y1="332.19" x2="93.36" y2="322.56" stroke="#b1082b" stroke-width="1.3" stroke-dasharray="3.0 2.9"/>
<line x1="93.36" y1="322.56" x2="103.45" y2="316.78" stroke="#b1082b" stroke-width="1.3" stroke-dasharray="3.0 2.9"/>
<line x1="103.45" y1="316.78" x2="102.96" y2="303.26" stroke="#b1082b" stroke-width="1.3" stroke-dasharray="3.0 2.9"/>
<line x1="102.96" y1="303.26" x2="118.81" y2="307.25" stroke="#b1082b" stroke-width="1.3" stroke-dasharray="3.0 2.9"/>
<line x1="118.81" y1="307.25" x2="129.11" y2="310.20" stroke="#b1082b" stroke-width="1.3" stroke-dasharray="3.0 2.9"/>
<line x1="129.11" y1="310.20" x2="139.62" y2="327.50" stroke="#b1082b" stroke-width="1.3" stroke-dasharray="3.0 2.9"/>
<line x1="139.62" y1="327.50" x2="142.70" y2="274.00" stroke="#b1082b" stroke-width="1.3" stroke-dasharray="3.0 2.9"/>
<line x1="142.70" y1="274.00" x2="155.19" y2="280.23" stroke="#36528f" stroke-width="1.3" stroke-dasharray="2.9 3.0" stroke-dashoffset="3.0"/>
<line x1="155.19" y1="280.23" x2="155.33" y2="312.51" stroke="#36528f" stroke-width="1.3" stroke-dasharray="2.9 3.0" stroke-dashoffset="3.0"/>
<line x1="194.32" y1="291.38" x2="174.96" y2="321.44" stroke="#36528f" stroke-width="1.3" stroke-dasharray="2.9 3.0" stroke-dashoffset="3.0"/>
<line x1="174.96" y1="321.44" x2="180.58" y2="327.31" stroke="#36528f" stroke-width="1.3" stroke-dasharray="2.9 3.0" stroke-dashoffset="3.0"/>
<line x1="180.58" y1="327.31" x2="165.26" y2="338.51" stroke="#36528f" stroke-width="1.3" stroke-dasharray="2.9 3.0" stroke-dashoffset="3.0"/>
<line x1="165.26" y1="338.51" x2="157.70" y2="343.00" stroke="#36528f" stroke-width="1.3" stroke-dasharray="2.9 3.0" stroke-dashoffset="3.0"/>
<line x1="157.70" y1="343.00" x2="175.56" y2="349.54" stroke="#36528f" stroke-width="1.3" stroke-dasharray="2.9 3.0" stroke-dashoffset="3.0"/>
<line x1="175.56" y1="349.54" x2="169.68" y2="354.17" stroke="#36528f" stroke-width="1.3" stroke-dasharray="2.9 3.0" stroke-dashoffset="3.0"/>
<line x1="169.68" y1="354.17" x2="171.80" y2="362.44" stroke="#36528f" stroke-width="1.3" stroke-dasharray="2.9 3.0" stroke-dashoffset="3.0"/>
<line x1="171.80" y1="362.44" x2="176.22" y2="376.52" stroke="#36528f" stroke-width="1.3" stroke-dasharray="2.9 3.0" stroke-dashoffset="3.0"/>
<line x1="176.22" y1="376.52" x2="162.14" y2="372.10" stroke="#36528f" stroke-width="1.3" stroke-dasharray="2.9 3.0" stroke-dashoffset="3.0"/>
<line x1="162.14" y1="372.10" x2="159.16" y2="382.73" stroke="#36528f" stroke-width="1.3" stroke-dasharray="2.9 3.0" stroke-dashoffset="3.0"/>
<line x1="159.16" y1="382.73" x2="151.28" y2="386.15" stroke="#36528f" stroke-width="1.3" stroke-dasharray="2.9 3.0" stroke-dashoffset="3.0"/>
<line x1="151.28" y1="386.15" x2="142.70" y2="383.60" stroke="#36528f" stroke-width="1.3" stroke-dasharray="2.9 3.0" stroke-dashoffset="3.0"/>
<line x1="142.70" y1="383.60" x2="131.58" y2="398.90" stroke="#36528f" stroke-width="1.3" stroke-dasharray="2.9 3.0" stroke-dashoffset="3.0"/>
<line x1="131.58" y1="398.90" x2="136.35" y2="358.34" stroke="#36528f" stroke-width="1.3" stroke-dasharray="2.9 3.0" stroke-dashoffset="3.0"/>
<line x1="136.35" y1="358.34" x2="113.70" y2="386.40" stroke="#36528f" stroke-width="1.3" stroke-dasharray="2.9 3.0" stroke-dashoffset="3.0"/>
<line x1="113.70" y1="386.40" x2="102.68" y2="383.02" stroke="#36528f" stroke-width="1.3" stroke-dasharray="2.9 3.0" stroke-dashoffset="3.0"/>
<line x1="102.68" y1="383.02" x2="117.76" y2="359.67" stroke="#36528f" stroke-width="1.3" stroke-dasharray="2.9 3.0" stroke-dashoffset="3.0"/>
<line x1="117.76" y1="359.67" x2="57.98" y2="378.09" stroke="#36528f" stroke-width="1.3" stroke-dasharray="2.9 3.0" stroke-dashoffset="3.0"/>
<line x1="57.98" y1="378.09" x2="89.74" y2="353.53" stroke="#36528f" stroke-width="1.3" stroke-dasharray="2.9 3.0" stroke-dashoffset="3.0"/>
<line x1="89.74" y1="353.53" x2="101.70" y2="343.00" stroke="#36528f" stroke-width="1.3" stroke-dasharray="2.9 3.0" stroke-dashoffset="3.0"/>
<line x1="101.70" y1="343.00" x2="91.70" y2="332.86" stroke="#36528f" stroke-width="1.3" stroke-dasharray="2.9 3.0" stroke-dashoffset="3.0"/>
<line x1="91.70" y1="332.86" x2="93.36" y2="322.56" stroke="#36528f" stroke-width="1.3" stroke-dasharray="2.9 3.0" stroke-dashoffset="3.0"/>
<line x1="93.36" y1="322.56" x2="103.45" y2="316.78" stroke="#36528f" stroke-width="1.3" stroke-dasharray="2.9 3.0" stroke-dashoffset="3.0"/>
<line x1="103.45" y1="316.78" x2="102.96" y2="303.26" stroke="#36528f" stroke-width="1.3" stroke-dasharray="2.9 3.0" stroke-dashoffset="3.0"/>
<line x1="102.96" y1="303.26" x2="118.81" y2="307.25" stroke="#36528f" stroke-width="1.3" stroke-dasharray="2.9 3.0" stroke-dashoffset="3.0"/>
<line x1="118.81" y1="307.25" x2="129.11" y2="310.20" stroke="#36528f" stroke-width="1.3" stroke-dasharray="2.9 3.0" stroke-dashoffset="3.0"/>
<line x1="129.11" y1="310.20" x2="139.62" y2="327.50" stroke="#36528f" stroke-width="1.3" stroke-dasharray="2.9 3.0" stroke-dashoffset="3.0"/>
<line x1="139.62" y1="327.50" x2="142.70" y2="274.00" stroke="#36528f" stroke-width="1.3" stroke-dasharray="2.9 3.0" stroke-dashoffset="3.0"/>
<text x="265.60" y="226.00" font-size="12.2" font-weight="bold" fill="#000" stroke="#000" stroke-width="0.35">D</text>
<line x1="307.75" y1="233.30" x2="307.75" y2="400.60" stroke="#111" stroke-width="1.3"/>
<line x1="307.15" y1="400.00" x2="456.40" y2="400.00" stroke="#111" stroke-width="1.3"/>
<line x1="304.40" y1="236.75" x2="307.75" y2="236.75" stroke="#111" stroke-width="1.0"/>
<line x1="304.40" y1="318.10" x2="307.75" y2="318.10" stroke="#111" stroke-width="1.0"/>
<text x="301.10" y="239.50" font-size="9.2" text-anchor="end" fill="#000">100</text>
<text x="301.20" y="320.90" font-size="9.2" text-anchor="end" fill="#000">50</text>
<text transform="translate(284.5,342.3) rotate(-90)" font-size="10.6" stroke="#000" stroke-width="0.15" fill="#000" textLength="51.3" lengthAdjust="spacingAndGlyphs">Percent survival</text>
<line x1="309.60" y1="318.40" x2="456.80" y2="318.40" stroke="#000" stroke-width="1.1" stroke-dasharray="1.1 1.32"/>
<text x="365.00" y="314.60" font-size="8.6" fill="#000" textLength="39.8" lengthAdjust="spacingAndGlyphs">p = 0.0191</text>
<line x1="307.80" y1="400.00" x2="307.80" y2="402.80" stroke="#111" stroke-width="1.0"/>
<text transform="translate(311.00,409.9) rotate(-45)" font-size="8.9" text-anchor="end" fill="#000">0</text>
<line x1="323.02" y1="400.00" x2="323.02" y2="402.80" stroke="#111" stroke-width="1.0"/>
<text transform="translate(326.22,409.9) rotate(-45)" font-size="8.9" text-anchor="end" fill="#000">100</text>
<line x1="338.24" y1="400.00" x2="338.24" y2="402.80" stroke="#111" stroke-width="1.0"/>
<text transform="translate(341.44,409.9) rotate(-45)" font-size="8.9" text-anchor="end" fill="#000">200</text>
<line x1="353.47" y1="400.00" x2="353.47" y2="402.80" stroke="#111" stroke-width="1.0"/>
<text transform="translate(356.67,409.9) rotate(-45)" font-size="8.9" text-anchor="end" fill="#000">300</text>
<line x1="368.69" y1="400.00" x2="368.69" y2="402.80" stroke="#111" stroke-width="1.0"/>
<text transform="translate(371.89,409.9) rotate(-45)" font-size="8.9" text-anchor="end" fill="#000">400</text>
<line x1="383.91" y1="400.00" x2="383.91" y2="402.80" stroke="#111" stroke-width="1.0"/>
<text transform="translate(387.11,409.9) rotate(-45)" font-size="8.9" text-anchor="end" fill="#000">500</text>
<line x1="399.13" y1="400.00" x2="399.13" y2="402.80" stroke="#111" stroke-width="1.0"/>
<text transform="translate(402.33,409.9) rotate(-45)" font-size="8.9" text-anchor="end" fill="#000">600</text>
<line x1="414.35" y1="400.00" x2="414.35" y2="402.80" stroke="#111" stroke-width="1.0"/>
<text transform="translate(417.55,409.9) rotate(-45)" font-size="8.9" text-anchor="end" fill="#000">700</text>
<line x1="429.58" y1="400.00" x2="429.58" y2="402.80" stroke="#111" stroke-width="1.0"/>
<text transform="translate(432.78,409.9) rotate(-45)" font-size="8.9" text-anchor="end" fill="#000">800</text>
<line x1="444.80" y1="400.00" x2="444.80" y2="402.80" stroke="#111" stroke-width="1.0"/>
<text transform="translate(448.00,409.9) rotate(-45)" font-size="8.9" text-anchor="end" fill="#000">900</text>
<text x="453.60" y="412.60" font-size="8.4" fill="#000" textLength="22.7" lengthAdjust="spacingAndGlyphs">(days)</text>
<text x="322.70" y="367.90" font-size="8.5" fill="#000" textLength="85.6" lengthAdjust="spacingAndGlyphs">Median Survival (days)</text>
<line x1="311.40" y1="377.60" x2="318.80" y2="377.60" stroke="#333" stroke-width="1.1"/>
<line x1="313.60" y1="377.60" x2="316.60" y2="377.60" stroke="#b1082b" stroke-width="1.1"/>
<text x="322.70" y="381.00" font-size="8.6" fill="#000">WT</text>
<text x="363.80" y="381.00" font-size="8.6" fill="#000" textLength="48.8" lengthAdjust="spacingAndGlyphs">761 (n = 28)</text>
<line x1="311.40" y1="388.90" x2="318.80" y2="388.90" stroke="#333" stroke-width="1.1"/>
<line x1="313.60" y1="388.90" x2="316.60" y2="388.90" stroke="#36528f" stroke-width="1.1"/>
<text x="322.80" y="392.40" font-size="8.6" fill="#000" textLength="12.2" lengthAdjust="spacingAndGlyphs">Lyn</text>
<text x="335.40" y="390.60" font-size="6.3" fill="#000" textLength="13.4" lengthAdjust="spacingAndGlyphs">up-B</text>
<text x="363.80" y="392.20" font-size="8.6" fill="#000" textLength="48.8" lengthAdjust="spacingAndGlyphs">710 (n = 28)</text>
<polyline points="357.60,242.70 372.50,242.70 372.50,248.50 397.70,248.50 397.70,255.60 399.40,255.60 399.40,262.60 404.50,262.60 404.50,270.50 408.30,270.50 408.30,277.80 409.60,277.80 409.60,286.70 416.30,286.70 416.30,304.80 421.00,304.80 421.00,314.40 423.60,314.40 423.60,333.50 435.80,333.50 435.80,346.70 444.90,346.70 444.90,373.50 449.00,373.50 449.00,400.00" fill="none" stroke="#b1082b" stroke-width="1.4" stroke-linejoin="miter"/>
<polyline points="307.75,236.60 336.00,236.60 336.00,242.70 357.10,242.70 357.10,248.60 373.70,248.60 373.70,255.00 374.80,255.00 374.80,261.30 379.10,261.30 379.10,267.70 388.60,267.70 388.60,274.00 392.10,274.00 392.10,280.40 393.80,280.40 393.80,286.70 397.30,286.70 397.30,292.70 401.90,292.70 401.90,299.20 406.30,299.20 406.30,305.40 410.60,305.40 410.60,311.70 412.30,311.70 412.30,318.00 415.20,318.00 415.20,324.00 416.00,324.00 416.00,330.00 416.80,330.00 416.80,336.00 417.60,336.00 417.60,342.00 418.40,342.00 418.40,348.00 419.00,348.00 419.00,354.00 419.60,354.00 419.60,360.00 420.00,360.00 420.00,373.00 426.50,373.00 426.50,386.20 444.40,386.20" fill="none" stroke="#36528f" stroke-width="1.4" stroke-linejoin="miter"/>
<line x1="387.20" y1="247.20" x2="387.20" y2="249.80" stroke="#b1082b" stroke-width="0.9"/>
<line x1="391.30" y1="247.20" x2="391.30" y2="249.80" stroke="#b1082b" stroke-width="0.9"/>
<line x1="430.20" y1="332.20" x2="430.20" y2="334.80" stroke="#b1082b" stroke-width="0.9"/>
<line x1="444.20" y1="358.70" x2="444.20" y2="361.30" stroke="#b1082b" stroke-width="0.9"/>
<line x1="449.00" y1="384.70" x2="449.00" y2="387.30" stroke="#b1082b" stroke-width="0.9"/>
<line x1="416.30" y1="294.30" x2="416.30" y2="296.90" stroke="#b1082b" stroke-width="0.9"/>
<line x1="327.90" y1="235.30" x2="327.90" y2="237.90" stroke="#36528f" stroke-width="0.9"/>
<line x1="340.80" y1="241.40" x2="340.80" y2="244.00" stroke="#36528f" stroke-width="0.9"/>
<line x1="437.50" y1="384.90" x2="437.50" y2="387.50" stroke="#36528f" stroke-width="0.9"/>
<line x1="444.40" y1="384.90" x2="444.40" y2="387.50" stroke="#36528f" stroke-width="0.9"/>
<line x1="426.50" y1="377.70" x2="426.50" y2="380.30" stroke="#36528f" stroke-width="0.9"/>
<rect x="0.6" y="0.6" width="518.7" height="449.8" fill="none" stroke="#000" stroke-width="1.35"/>
</svg>
</body></html>
